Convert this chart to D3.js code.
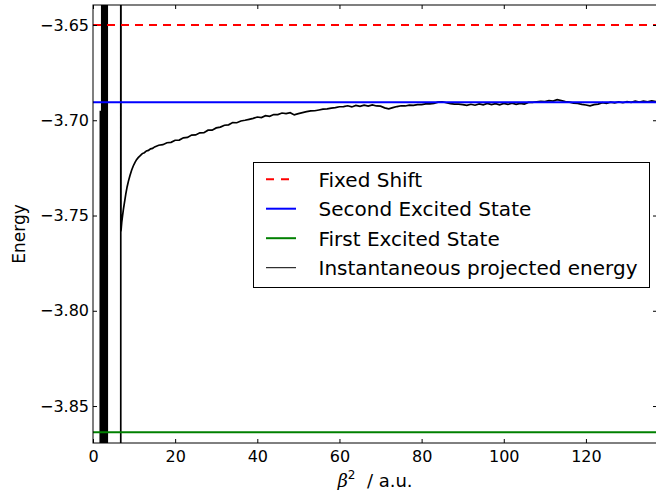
<!DOCTYPE html>
<html>
<head>
<meta charset="utf-8">
<script src="https://cdn.jsdelivr.net/npm/d3@7"></script>
<style>
  body { margin: 0; background: #fff; }
  text { font-family: "DejaVu Sans", sans-serif; fill: #000; }
</style>
</head>
<body>
<svg id="chart" width="656" height="490"></svg>
<script>
// reference energies (horizontal lines)
var fixedShift = -3.65;
var secondExcited = -3.6906;
var firstExcited = -3.8638;

// instantaneous projected energy
// early part oscillates far off-scale, then the curve settles in
var beta2 = [
  1.7, 1.8, 1.9, 2.0, 2.1, 2.2, 2.3, 2.4, 2.5, 2.6, 2.7, 2.8, 2.9, 3.0, 3.1, 3.2, 3.3, 3.4, 3.5, 3.6,
  6.75, 6.78, 6.81, 6.9, 7.0, 7.2, 7.4, 7.6, 7.8, 8.0, 8.3, 8.6, 9.0, 9.4, 9.8, 10.2, 10.6, 11.0,
  11.5, 12.0, 12.5, 13.0, 13.5, 14.0, 14.5, 15.0,
  16, 17, 18, 19, 20, 21, 22, 23, 24, 25, 26, 27, 28, 29, 30, 31, 32, 33, 34, 35, 36, 37, 38, 39,
  40, 41, 42, 43, 44, 45, 46, 47, 48, 49, 50, 51, 52, 53, 54, 55, 56, 57, 58, 59, 60, 61, 62, 63,
  64, 65, 66, 67, 68, 69, 70, 71, 72, 73, 74, 75, 76, 77, 78, 79, 80, 81, 82, 83, 84, 85, 86, 87,
  88, 89, 90, 91, 92, 93, 94, 95, 96, 97, 98, 99, 100, 101, 102, 103, 104, 105, 106, 107, 108, 109,
  110, 111, 112, 113, 114, 115, 116, 117, 118, 119, 120, 121, 122, 123, 124, 125, 126, 127, 128,
  129, 130, 131, 132, 133, 134, 135, 136, 137, 137.5
];
var energy = [
  -4.5, -3.695, -4.5, -3.696, -4.5, -2.5, -4.5, -2.5, -4.5, -2.5, -4.5, -2.5, -4.5, -2.5, -4.5, -2.5, -4.5, -2.5, -4.5, -4.5,
  -4.5, -2.5, -3.7584, -3.7560, -3.7535, -3.7500, -3.7468, -3.7440, -3.7412, -3.7385, -3.7350, -3.7322, -3.7290, -3.7262, -3.7240, -3.7222, -3.7207, -3.7196,
  -3.7186, -3.7175, -3.7170, -3.7161, -3.7158, -3.7150, -3.7148, -3.7140,
  -3.7131, -3.7128, -3.7118, -3.7116, -3.7105, -3.7104, -3.7092, -3.7090, -3.7078, -3.7077, -3.7066, -3.7065, -3.7052, -3.7052, -3.7040, -3.7036, -3.7026, -3.7024, -3.7012, -3.7013, -3.7004, -3.7000, -3.6995, -3.6990,
  -3.6983, -3.6986, -3.6976, -3.6979, -3.6970, -3.6970, -3.6962, -3.6965, -3.6960, -3.6972, -3.6965, -3.6960, -3.6955, -3.6951, -3.6950, -3.6946, -3.6942, -3.6940, -3.6936, -3.6934, -3.6929, -3.6928, -3.6924, -3.6930,
  -3.6922, -3.6927, -3.6921, -3.6926, -3.6919, -3.6925, -3.6926, -3.6935, -3.6940, -3.6934, -3.6928, -3.6924, -3.6925, -3.6921, -3.6922, -3.6918, -3.6918, -3.6914, -3.6914, -3.6911, -3.6905, -3.6903, -3.6908, -3.6913,
  -3.6915, -3.6915, -3.6918, -3.6922, -3.6916, -3.6921, -3.6914, -3.6919, -3.6912, -3.6918, -3.6913, -3.6919, -3.6912, -3.6917, -3.6910, -3.6916, -3.6911, -3.6915, -3.6906, -3.6906, -3.6903, -3.6901,
  -3.6902, -3.6897, -3.6899, -3.6892, -3.6897, -3.6902, -3.6905, -3.6910, -3.6912, -3.6917, -3.6920, -3.6924, -3.6918, -3.6915, -3.6908, -3.6912, -3.6905, -3.6909, -3.6904,
  -3.6908, -3.6902, -3.6906, -3.6900, -3.6904, -3.6899, -3.6903, -3.6898, -3.6902, -3.6899
];

var xTicks = [0, 20, 40, 60, 80, 100, 120];
var yTicks = [-3.65, -3.70, -3.75, -3.80, -3.85];

var legendLabels = ["Fixed Shift", "Second Excited State", "First Excited State", "Instantaneous projected energy"];

var dims = { left: 93, top: 5, right: 657, bottom: 443 };

var svg = d3.select("#chart");

var x = d3.scaleLinear().domain([0, 137.3]).range([dims.left, dims.right]);
var y = d3.scaleLinear().domain([-3.8694, -3.6395]).range([dims.bottom, dims.top]);

svg.append("clipPath").attr("id", "clip")
  .append("rect")
  .attr("x", dims.left).attr("y", dims.top)
  .attr("width", dims.right - dims.left).attr("height", dims.bottom - dims.top);

var plot = svg.append("g").attr("clip-path", "url(#clip)");

var points = beta2.map((b, i) => [b, energy[i]]);

plot.append("path")
  .datum(points)
  .attr("fill", "none")
  .attr("stroke", "#000")
  .attr("stroke-width", 1.7)
  .attr("stroke-linejoin", "miter")
  .attr("d", d3.line().x(d => x(d[0])).y(d => y(d[1])));

// horizontal reference lines
function hline(val, color, dash) {
  plot.append("line")
    .attr("x1", dims.left).attr("x2", dims.right)
    .attr("y1", y(val)).attr("y2", y(val))
    .attr("stroke", color)
    .attr("stroke-width", 2)
    .attr("stroke-dasharray", dash);
}
hline(fixedShift, "#ff0000", "8,6");
hline(secondExcited, "#0000ff", null);
hline(firstExcited, "#008000", null);

// axes, ticks pointing inward on all sides
var xAxis = svg.append("g")
  .attr("transform", `translate(0,${dims.bottom})`)
  .call(d3.axisBottom(x).tickValues(xTicks).tickSize(-4).tickPadding(8).tickFormat(d3.format("d")));
var xTop = svg.append("g")
  .attr("transform", `translate(0,${dims.top})`)
  .call(d3.axisTop(x).tickValues(xTicks).tickSize(-4).tickFormat(""));
var yAxis = svg.append("g")
  .attr("transform", `translate(${dims.left},0)`)
  .call(d3.axisLeft(y).tickValues(yTicks).tickSize(-4).tickPadding(4).tickFormat(d3.format(".2f")));
var yRight = svg.append("g")
  .attr("transform", `translate(${dims.right},0)`)
  .call(d3.axisRight(y).tickValues(yTicks).tickSize(-4).tickFormat(""));

svg.selectAll(".domain").remove();
svg.selectAll(".tick line").attr("stroke", "#000");
svg.selectAll(".tick text").style("font-size", "16px").attr("fill", "#000");

svg.append("rect")
  .attr("x", dims.left).attr("y", dims.top)
  .attr("width", dims.right - dims.left).attr("height", dims.bottom - dims.top)
  .attr("fill", "none").attr("stroke", "#000").attr("stroke-width", 1);

// axis labels
svg.append("text")
  .attr("transform", `translate(25,${(dims.top + dims.bottom) / 2 + 10}) rotate(-90)`)
  .attr("text-anchor", "middle")
  .style("font-size", "17px")
  .text("Energy");

var xl = svg.append("text")
  .attr("x", (dims.left + dims.right) / 2)
  .attr("y", 487)
  .attr("text-anchor", "middle")
  .attr("xml:space", "preserve")
  .style("font-size", "18px");
xl.append("tspan").style("font-style", "italic").style("font-family", "DejaVu Serif").text("β");
xl.append("tspan").attr("dy", -8).style("font-size", "12px").text("2");
xl.append("tspan").attr("dy", 8).text("  / a.u.");

// legend
var legend = svg.append("g");
legend.append("rect")
  .attr("x", 253.5).attr("y", 162.5)
  .attr("width", 396).attr("height", 125)
  .attr("fill", "#fff").attr("stroke", "#000").attr("stroke-width", 1);

var legendStyles = [
  { color: "#ff0000", width: 2, dash: "8,7" },
  { color: "#0000ff", width: 2, dash: null },
  { color: "#008000", width: 2, dash: null },
  { color: "#000", width: 1, dash: null }
];

legendLabels.forEach((lab, i) => {
  var base = 186.7 + i * 29.5;
  legend.append("line")
    .attr("x1", 266).attr("x2", 296)
    .attr("y1", base - 7.5).attr("y2", base - 7.5)
    .attr("stroke", legendStyles[i].color)
    .attr("stroke-width", legendStyles[i].width)
    .attr("stroke-dasharray", legendStyles[i].dash);
  legend.append("text")
    .attr("x", 318.5).attr("y", base)
    .style("font-size", "20px")
    .text(lab);
});
</script>
</body>
</html>
